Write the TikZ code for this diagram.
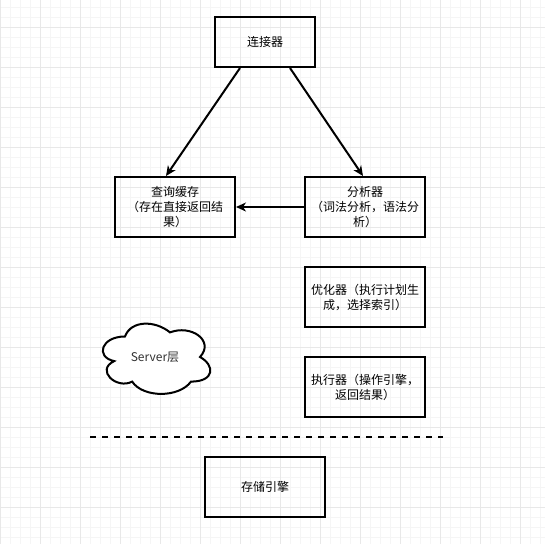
\documentclass[tikz,border=0pt]{standalone}
\usepackage{fontspec}
\setmainfont{Liberation Sans}
\newfontfamily\cjk{Noto Sans CJK SC}
\usepackage{tikz}
\usetikzlibrary{arrows.meta}
\tikzset{>={Stealth[length=10pt,width=9pt,inset=3pt]}}

\tikzset{
  box/.style={draw, line width=2pt, rectangle, minimum width=120pt, minimum height=60pt,
    align=center, inner sep=0pt, font=\cjk\fontsize{12}{15}\selectfont},
  link/.style={->, line width=2pt},
  gridminor/.style={line width=1pt, black!4},
  gridmajor/.style={line width=1pt, black!9}
}

\begin{document}
\begin{tikzpicture}[x=1pt, y=-1pt]
        \useasboundingbox (0,0) rectangle (545,544);
        % grid
        \foreach \i in {0,10,...,540} \draw[gridminor] (\i,0)--(\i,544);
        \foreach \j in {7,17,...,537} \draw[gridminor] (0,\j)--(545,\j);
        \foreach \i in {0,40,...,520} \draw[gridmajor] (\i,0)--(\i,544);
        \foreach \j in {27,67,...,507} \draw[gridmajor] (0,\j)--(545,\j);

        \node[box, minimum width=100pt, minimum height=50pt] (conn) at (265,42) {连接器};
        \node[box] (cache) at (175,207) {查询缓存\\（存在直接返回结\\果）};
        \node[box] (parse) at (365,207) {分析器\\（词法分析，语法分\\析）};
        \node[box] (opt) at (365,297) {优化器（执行计划生\\成，选择索引）};
        \node[box] (exec) at (365,387) {执行器（操作引擎，\\返回结果）};
        \node[box] (engine) at (265,487) {存储引擎};

        \draw [link] ([xshift=-25pt]conn.south)--([xshift=-9pt]cache.north);
        \draw [link] ([xshift=25pt]conn.south)--([xshift=-2pt]parse.north);
        \draw [link] (parse.west)--(cache.east);

        % cloud
        \draw [line width=2pt, fill=white, shift={(95,316)}, x=120pt, y=-82pt]
          (0.25,0.25) .. controls (0.05,0.25) and (0,0.5) .. (0.16,0.55)
          .. controls (0,0.66) and (0.18,0.9) .. (0.31,0.8)
          .. controls (0.4,1) and (0.7,1) .. (0.8,0.8)
          .. controls (1,0.8) and (1,0.6) .. (0.875,0.5)
          .. controls (1,0.3) and (0.8,0.1) .. (0.625,0.2)
          .. controls (0.5,0.05) and (0.3,0.05) .. (0.25,0.25) -- cycle;
        \node[font=\cjk\fontsize{12}{15}\selectfont, text=black!80] (layer) at (155,357) {Server层};

        \coordinate (sepL) at (90,437);
        \coordinate (sepR) at (443,437);
        \draw [line width=2pt, dash pattern=on 6pt off 6pt] (sepL)--(sepR);
\end{tikzpicture}
\end{document}
